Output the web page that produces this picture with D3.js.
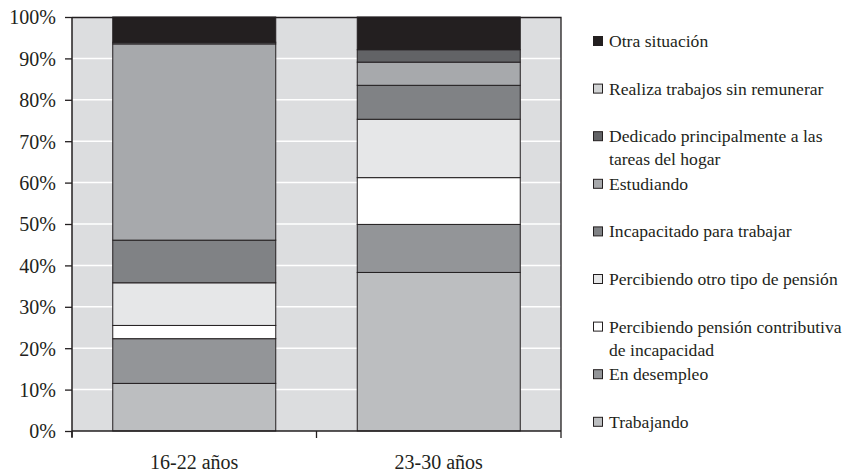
<!DOCTYPE html>
<html>
<head>
<meta charset="utf-8">
<script src="https://cdn.jsdelivr.net/npm/d3@7"></script>
</head>
<body style="margin:0; background:#fff">
<svg width="846" height="474" font-family="Liberation Serif" style="font-family: 'Liberation Serif'"></svg>
<script>
// categories and series (bottom of the stack first), values in %
var categories = ["16-22 años", "23-30 años"];
var seriesNames = [
  "Trabajando",
  "En desempleo",
  "Percibiendo pensión contributiva de incapacidad",
  "Percibiendo otro tipo de pensión",
  "Incapacitado para trabajar",
  "Estudiando",
  "Dedicado principalmente a las tareas del hogar",
  "Realiza trabajos sin remunerar",
  "Otra situación"
];
var trabajando    = [11.5, 38.3];
var desempleo     = [10.8, 11.6];
var pensionContr  = [3.2, 11.3];
var otraPension   = [10.3, 14.1];
var incapacitado  = [10.3, 8.2];
var estudiando    = [47.4, 5.6];
var hogar         = [0.4, 3.0];
var sinRemunerar  = [0, 0];
var otra          = [6.1, 7.9];
var yTicks = [0, 10, 20, 30, 40, 50, 60, 70, 80, 90, 100];

// legend text lines (top to bottom as shown)
var legendLines = {
  "Otra situación": ["Otra situación"],
  "Realiza trabajos sin remunerar": ["Realiza trabajos sin remunerar"],
  "Dedicado principalmente a las tareas del hogar": ["Dedicado principalmente a las", "tareas del hogar"],
  "Estudiando": ["Estudiando"],
  "Incapacitado para trabajar": ["Incapacitado para trabajar"],
  "Percibiendo otro tipo de pensión": ["Percibiendo otro tipo de pensión"],
  "Percibiendo pensión contributiva de incapacidad": ["Percibiendo pensión contributiva", "de incapacidad"],
  "En desempleo": ["En desempleo"],
  "Trabajando": ["Trabajando"]
};

var serif = "Liberation Serif";
var ink = "#231f20";

var colours = d3.scaleOrdinal()
  .domain(seriesNames)
  .range(["#bcbec0", "#939598", "#ffffff", "#e6e7e8", "#808285", "#a7a9ac", "#626366", "#d1d3d4", "#231f20"]);

// build table for d3.stack
var allValues = [trabajando, desempleo, pensionContr, otraPension, incapacitado, estudiando, hogar, sinRemunerar, otra];
var table = categories.map(function(c, i) {
  var row = {cat: c};
  seriesNames.forEach(function(s, j) { row[s] = allValues[j][i]; });
  return row;
});
var stacked = d3.stack().keys(seriesNames)(table);

var svg = d3.select("svg"),
    margin = {top: 17, right: 285, bottom: 43, left: 72},
    width = +svg.attr("width") - margin.left - margin.right,
    height = +svg.attr("height") - margin.top - margin.bottom;

var x = d3.scaleBand().domain(categories).range([0, width])
    .paddingInner(1 / 3).paddingOuter(1 / 6),
    y = d3.scaleLinear().domain([0, 100]).range([height, 0]);

var g = svg.append("g")
    .attr("transform", "translate(" + margin.left + "," + margin.top + ")");

// plot background
g.append("rect")
    .attr("width", width)
    .attr("height", height)
    .attr("fill", "#dcdddf");

// white gridlines
g.selectAll(".grid")
  .data(yTicks.slice(1, -1))
  .enter().append("line")
    .attr("x1", 0).attr("x2", width)
    .attr("y1", function(d) { return y(d); })
    .attr("y2", function(d) { return y(d); })
    .attr("stroke", "#fff")
    .attr("stroke-width", 1.5);

// stacked bars
g.selectAll(".layer")
  .data(stacked)
  .enter().append("g")
    .attr("fill", function(d) { return colours(d.key); })
  .selectAll("rect")
  .data(function(d) { return d; })
  .enter().append("rect")
    .attr("x", function(d) { return x(d.data.cat); })
    .attr("width", x.bandwidth())
    .attr("y", function(d) { return y(d[1]); })
    .attr("height", function(d) { return y(d[0]) - y(d[1]); })
    .attr("stroke", ink)
    .attr("stroke-width", 1);

// frame: top and right border
g.append("path")
    .attr("d", "M0,0.5H" + width + "V" + height)
    .attr("fill", "none")
    .attr("stroke", ink)
    .attr("stroke-width", 1.3);

// y axis
var yAxis = g.append("g")
    .call(d3.axisLeft(y).tickValues(yTicks).tickSize(7).tickSizeOuter(0)
      .tickFormat(function(d) { return d + "%"; }));
yAxis.attr("font-family", serif).attr("font-size", 20);
yAxis.select(".domain").attr("d", "M0,0V" + (height + 6)).attr("stroke", ink).attr("stroke-width", 1.5);
yAxis.selectAll(".tick line").attr("stroke", ink).attr("stroke-width", 1.3);
yAxis.selectAll("text")
    .attr("x", -16)
    .attr("dy", "0.34em")
    .attr("fill", ink)
    .attr("font-family", serif)
    .style("font-family", serif)
    .style("font-size", "20px");

// x axis with ticks on band edges
var xAxis = g.append("g")
    .attr("transform", "translate(0," + height + ")");
xAxis.append("line")
    .attr("x1", 0).attr("x2", width)
    .attr("stroke", ink).attr("stroke-width", 1.5);
xAxis.selectAll(".edge")
  .data([0, 1, 2])
  .enter().append("line")
    .attr("x1", function(d) { return d * x.step(); })
    .attr("x2", function(d) { return d * x.step(); })
    .attr("y1", 0).attr("y2", 7)
    .attr("stroke", ink).attr("stroke-width", 1.3);
xAxis.selectAll(".lbl")
  .data(categories)
  .enter().append("text")
    .attr("x", function(d) { return x(d) + x.bandwidth() / 2; })
    .attr("y", 38)
    .attr("text-anchor", "middle")
    .attr("fill", ink)
    .attr("font-family", serif)
    .style("font-family", serif)
    .style("font-size", "20px")
    .text(function(d) { return d; });

// legend, top entry is the top of the stack
var legendOrder = seriesNames.slice().reverse();
var legend = svg.append("g").attr("transform", "translate(593,0)");
var item = legend.selectAll(".item")
  .data(legendOrder)
  .enter().append("g")
    .attr("transform", function(d, i) { return "translate(0," + (41 + i * 47.6) + ")"; });
item.append("rect")
    .attr("x", 0.5).attr("y", -4.5)
    .attr("width", 9).attr("height", 9)
    .attr("fill", function(d) { return colours(d); })
    .attr("stroke", ink)
    .attr("stroke-width", 1);
item.append("text")
    .attr("x", 16)
    .attr("y", 6)
    .attr("fill", ink)
    .attr("font-family", serif)
    .style("font-family", serif)
    .style("font-size", "17.6px")
    .selectAll("tspan")
    .data(function(d) { return legendLines[d]; })
    .enter().append("tspan")
      .attr("x", 16)
      .attr("dy", function(d, i) { return i === 0 ? 0 : 23; })
      .text(function(d) { return d; });
</script>
</body>
</html>
